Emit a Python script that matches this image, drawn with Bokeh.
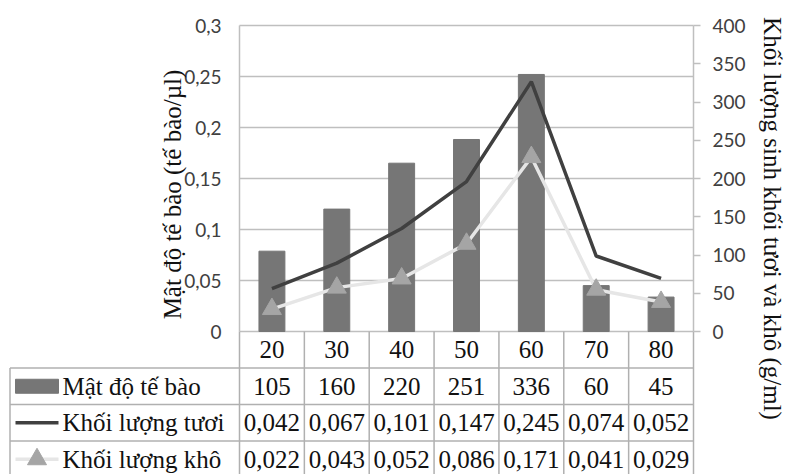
import math
from bokeh.plotting import figure
from bokeh.models import (Range1d, LinearAxis, FixedTicker, CustomJSTickFormatter,
                          Label, ColumnDataSource)
from bokeh.core.properties import value
from bokeh.embed import file_html
from bokeh.resources import INLINE

# ---------------- data ----------------
categories = ["20", "30", "40", "50", "60", "70", "80"]
mat_do = [105, 160, 220, 251, 336, 60, 45]                          # bars, right axis
kl_tuoi = [0.042, 0.067, 0.101, 0.147, 0.245, 0.074, 0.052]          # left axis
kl_kho = [0.022, 0.043, 0.052, 0.086, 0.171, 0.041, 0.029]           # left axis
left_ticks = [0, 0.05, 0.1, 0.15, 0.2, 0.25, 0.3]
right_ticks = [0, 50, 100, 150, 200, 250, 300, 350, 400]
series_names = ["Mật độ tế bào", "Khối lượng tươi", "Khối lượng khô"]
left_title = "Mật độ tế bào (tế bào/µl)"
right_title = "Khối lượng sinh khối tươi và khô (g/ml)"

# ---------------- styling / geometry (pixels) ----------------
W, H = 793, 474
FL, FR = 239, 693          # plot area left/right px
Y0, YTOP = 331, 25         # px of value 0 and of top tick
ROW_H = 36.5
BAR_C = "#767676"
DARK_C = "#404040"
LIGHT_C = "#e6e6e6"
TRI_C = "#a5a5a5"
GRID_C = "#bfbfbf"
TABLE_C = "#b0b0b0"
TXT_C = "#111111"
SERIF = "Liberation Serif"
SANS = "Lato"

n = len(categories)
xs = [i + 0.5 for i in range(n)]
lmax = left_ticks[-1]
rmax = right_ticks[-1]
ppu = (Y0 - YTOP) / lmax          # px per left-axis unit
cpx = (FR - FL) / n               # px per category
r_scale = rmax / lmax


def px_x(px):
    return (px - FL) / cpx


def px_y(py):
    return (Y0 - py) / ppu


def row_y(k):
    return px_y(Y0 + k * ROW_H)


p = figure(width=W, height=H, output_backend="svg", toolbar_location=None,
           x_range=Range1d(px_x(0), px_x(W)), y_range=Range1d(px_y(H), px_y(0)),
           min_border_left=0, min_border_right=0, min_border_top=0, min_border_bottom=0,
           x_axis_location=None, y_axis_location=None)
p.outline_line_color = None
p.grid.visible = False
p.extra_y_ranges = {"right": Range1d(px_y(H) * r_scale, px_y(0) * r_scale)}

# gridlines across the plot area
p.segment(x0=[0] * len(left_ticks), y0=left_ticks, x1=[n] * len(left_ticks), y1=left_ticks,
          line_color=GRID_C, line_width=1.5)

# left axis
ya = LinearAxis(ticker=FixedTicker(ticks=left_ticks), bounds=(0, lmax), fixed_location=0)
ya.formatter = CustomJSTickFormatter(code="""
  let s = tick.toFixed(2).replace(/0+$/, '').replace(/\\.$/, '');
  return s.replace('.', ',');
""")
ya.major_tick_out = 0
ya.major_tick_in = 0
ya.minor_tick_out = 0
ya.minor_tick_in = 0
ya.axis_line_color = GRID_C
ya.axis_line_width = 1.5
ya.major_label_text_font = SANS
ya.major_label_text_font_size = "19px"
ya.major_label_text_color = "#404040"
ya.major_label_standoff = 18
p.add_layout(ya, "left")

# right axis
ra = LinearAxis(y_range_name="right", ticker=FixedTicker(ticks=right_ticks),
                bounds=(0, rmax), fixed_location=n)
ra.major_tick_out = 7
ra.major_tick_in = 0
ra.minor_tick_out = 0
ra.minor_tick_in = 0
ra.major_tick_line_color = GRID_C
ra.major_tick_line_width = 1.5
ra.axis_line_color = GRID_C
ra.axis_line_width = 1.5
ra.major_label_text_font = SANS
ra.major_label_text_font_size = "19px"
ra.major_label_text_color = "#404040"
ra.major_label_standoff = 12
p.add_layout(ra, "right")

# ---------------- table lines ----------------
ybot = px_y(H)
TLEFT = px_x(9.5)
vx = list(range(n + 1))
p.segment(x0=vx, y0=[0] * len(vx), x1=vx, y1=[ybot] * len(vx),
          line_color=TABLE_C, line_width=1.5)
p.segment(x0=[TLEFT], y0=[row_y(1)], x1=[TLEFT], y1=[ybot], line_color=TABLE_C, line_width=1.5)
hy = [row_y(k) for k in (1, 2, 3)]
p.segment(x0=[TLEFT] * 3, y0=hy, x1=[n] * 3, y1=hy, line_color=TABLE_C, line_width=1.5)

# ---------------- chart marks ----------------
src = ColumnDataSource(dict(x=xs, bar=mat_do, tuoi=kl_tuoi, kho=kl_kho))
p.vbar(x="x", top="bar", width=0.4, bottom=0, source=src, y_range_name="right",
       fill_color=BAR_C, line_color=BAR_C)
p.line("x", "tuoi", source=src, line_color=DARK_C, line_width=3.5)
p.line("x", "kho", source=src, line_color=LIGHT_C, line_width=3.5)
p.scatter("x", "kho", source=src, marker="triangle", size=19,
          fill_color=TRI_C, line_color=TRI_C)

# axis titles
p.add_layout(Label(x=px_x(172), y=px_y(194), text=left_title,
                   angle=math.pi / 2, text_align="center", text_baseline="middle",
                   text_font=SERIF, text_font_size="25px", text_color=TXT_C))
p.add_layout(Label(x=px_x(772), y=px_y(218), text=right_title,
                   angle=-math.pi / 2, text_align="center", text_baseline="middle",
                   text_font=SERIF, text_font_size="25px", text_color=TXT_C))

# ---------------- table text ----------------
def row_mid(k):
    return row_y(k + 0.5)


p.text(x=xs, y=[row_mid(0)] * n, text=categories, text_align="center", text_baseline="middle",
       text_font=value(SERIF), text_font_size="25px", text_color=TXT_C)
rows = [
    [str(v) for v in mat_do],
    [f"{v:.3f}".replace(".", ",") for v in kl_tuoi],
    [f"{v:.3f}".replace(".", ",") for v in kl_kho],
]
for r, vals in enumerate(rows):
    p.text(x=xs, y=[row_mid(r + 1)] * n, text=vals, text_align="center", text_baseline="middle",
           text_font=value(SERIF), text_font_size="25px", text_color=TXT_C)
    p.text(x=[px_x(62)], y=[row_mid(r + 1)], text=[series_names[r]], text_align="left",
           text_baseline="middle", text_font=value(SERIF), text_font_size="25px",
           text_color=TXT_C)

# legend keys
kx0 = px_x(15)
kx1 = px_x(58)
kxc = (kx0 + kx1) / 2
p.rect(x=[kxc], y=[row_mid(1)], width=kx1 - kx0, height=14 / ppu,
       fill_color=BAR_C, line_color=BAR_C)
p.segment(x0=[kx0], y0=[row_mid(2)], x1=[kx1], y1=[row_mid(2)], line_color=DARK_C, line_width=3.5)
p.segment(x0=[kx0], y0=[row_mid(3)], x1=[kx1], y1=[row_mid(3)], line_color=LIGHT_C, line_width=3.5)
p.scatter(x=[kxc], y=[row_mid(3)], marker="triangle", size=19, fill_color=TRI_C, line_color=TRI_C)

open("out.html", "w").write(file_html(p, INLINE))
